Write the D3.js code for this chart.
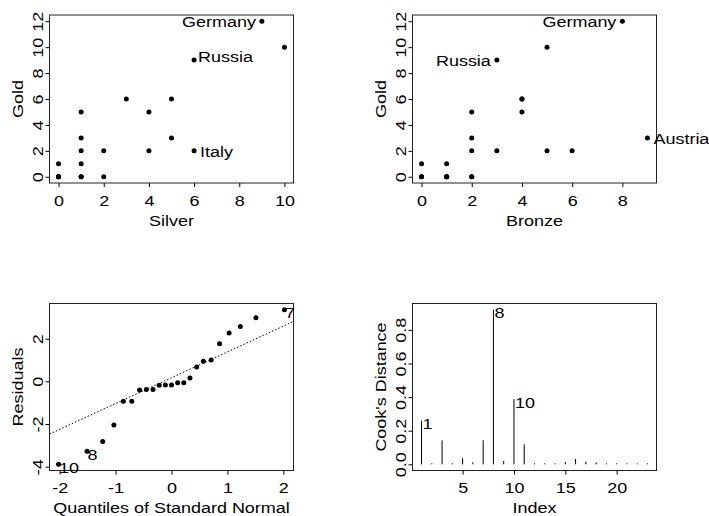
<!DOCTYPE html>
<html lang="en">
<head>
<meta charset="utf-8">
<title>Medals - regression diagnostics</title>
<script src="https://d3js.org/d3.v7.min.js"></script>
<style>
  body { margin: 0; background: #fff; }
  svg text { font-family: "Liberation Sans", Arial, sans-serif; font-size: 15.5px; fill: #000; }
</style>
</head>
<body>
<div id="chart"></div>
<script>
// medal table (China left out), one entry per country
const countries = ["Germany", "Norway", "Russia", "Canada", "USA", "Netherlands", "Japan", "Austria",
  "South Korea", "Italy", "Finland", "Switzerland", "France", "Czech Republic", "Bulgaria", "Sweden",
  "Denmark", "Ukraine", "Belarus", "Kazakhstan", "Australia", "Belgium", "Great Britain"];
const gold   = [12, 10, 9, 6, 6, 5, 5, 3, 3, 2, 2, 2, 2, 1, 1, 0, 0, 0, 0, 0, 0, 0, 0];
const silver = [9, 10, 6, 5, 3, 4, 1, 5, 1, 6, 4, 2, 1, 1, 0, 2, 1, 1, 0, 0, 0, 0, 0];
const bronze = [8, 5, 3, 4, 4, 2, 4, 9, 2, 2, 6, 3, 5, 1, 0, 1, 0, 0, 2, 2, 1, 1, 1];

// labelled countries in the two scatter plots (index into arrays, which side)
const silverLabels = [[0, "left"], [2, "right-up"], [9, "right"]];
const bronzeLabels = [[0, "left"], [2, "left"], [7, "right"]];

// normal QQ plot of residuals
const qqX = [-2.02, -1.51, -1.23, -1.03, -0.86, -0.71, -0.57, -0.45, -0.33, -0.22, -0.11, 0,
  0.11, 0.22, 0.33, 0.45, 0.57, 0.71, 0.86, 1.03, 1.23, 1.51, 2.02];
const qqY = [-3.89, -3.28, -2.82, -2.05, -0.93, -0.93, -0.41, -0.38, -0.38, -0.18, -0.17, -0.17,
  -0.07, -0.06, 0.16, 0.67, 0.94, 1.0, 1.76, 2.27, 2.57, 2.98, 3.36];
const qqLabels = [[0, "10"], [1, "8"], [22, "7"]];
const qqIntercept = 0.17, qqSlope = 1.21;

// Cook's distance by index
const cook = [0.26, 0.003, 0.143, 0.003, 0.037, 0.012, 0.143, 0.92, 0.02, 0.388, 0.119, 0.003,
  0.004, 0.004, 0.015, 0.032, 0.015, 0.012, 0.004, 0.004, 0.003, 0.003, 0.003];
const cookLabels = [0, 7, 9];

// tick values
const silverTicks = [0, 2, 4, 6, 8, 10];
const bronzeTicks = [0, 2, 4, 6, 8];
const goldTicks = [0, 2, 4, 6, 8, 10, 12];
const qqXTicks = [-2, -1, 0, 1, 2];
const qqYTicks = [-4, -2, 0, 2];
const indexTicks = [5, 10, 15, 20];
const cookTicks = [0, 0.2, 0.4, 0.6, 0.8];

const W = 709, H = 516;
const SX = 1.16; // text is drawn a bit wide in the original

let svg = d3.select("#chart").append("svg")
  .attr("width", W).attr("height", H);

function pad(ext) {
  let d = (ext[1] - ext[0]) * 0.04;
  return [ext[0] - d, ext[1] + d];
}

// plain hyphen minus, like the original
const intFmt = d => String(d);
const oneDec = d => d.toFixed(1);

function label(g, x, y, s, anchor, rot) {
  return g.append("text")
    .attr("text-anchor", anchor)
    .attr("transform", "translate(" + x + "," + y + ")" + (rot ? " rotate(-90)" : "") + " scale(" + SX + ",1)")
    .text(s);
}

// draws box, axes and titles, returns {g, x, y}
function panel(left, top, w, h, xDom, yDom, xt, yt, xTitle, yTitle, yFmt) {
  let g = svg.append("g");
  let x = d3.scaleLinear().domain(xDom).range([left, left + w]);
  let y = d3.scaleLinear().domain(yDom).range([top + h, top]);

  let ax = g.append("g").attr("transform", "translate(0," + (top + h) + ")")
    .call(d3.axisBottom(x).tickValues(xt).tickSize(4).tickSizeOuter(0).tickFormat(intFmt));
  ax.select(".domain").remove();
  ax.selectAll("line").attr("stroke", "#000");
  ax.selectAll("text")
    .attr("y", null).attr("dy", null)
    .attr("transform", "translate(0,22.5) scale(" + SX + ",1)");

  let ay = g.append("g").attr("transform", "translate(" + left + ",0)")
    .call(d3.axisLeft(y).tickValues(yt).tickSize(4).tickSizeOuter(0).tickFormat(yFmt || intFmt));
  ay.select(".domain").remove();
  ay.selectAll("line").attr("stroke", "#000");
  ay.selectAll("text")
    .attr("x", null).attr("dy", null)
    .attr("text-anchor", "middle")
    .attr("transform", "translate(-7,0) rotate(-90) scale(" + SX + ",1)");

  g.selectAll(".tick text").style("font-family", "'Liberation Sans', Arial, sans-serif").style("font-size", "15.5px");

  g.append("rect")
    .attr("x", left).attr("y", top).attr("width", w).attr("height", h)
    .attr("fill", "none").attr("stroke", "#222").attr("stroke-width", 1);

  label(g, left + w / 2, top + h + 42.5, xTitle, "middle", false);
  label(g, left - 26.5, top + h / 2, yTitle, "middle", true);
  return { g: g, x: x, y: y };
}

function scatter(p, xs, ys, labs) {
  p.g.selectAll("circle.pt").data(xs).enter().append("circle")
    .attr("class", "pt")
    .attr("cx", (d, i) => p.x(xs[i]))
    .attr("cy", (d, i) => p.y(ys[i]))
    .attr("r", 2.5).attr("fill", "#000");
  labs.forEach(function(l) {
    let i = l[0], side = l[1];
    let px = p.x(xs[i]), py = p.y(ys[i]);
    if (side == "left") label(p.g, px - 6, py + 6, countries[i], "end");
    else if (side == "right") label(p.g, px + 6, py + 6, countries[i], "start");
    else label(p.g, px + 4, py + 1.5, countries[i], "start");
  });
}

// top left: Gold vs Silver
let p1 = panel(49.5, 15, 244, 168, pad([0, 10]), pad([0, 12]), silverTicks, goldTicks, "Silver", "Gold");
scatter(p1, silver, gold, silverLabels);

// top right: Gold vs Bronze
let p2 = panel(412.5, 15, 244, 168, pad([0, 9]), pad([0, 12]), bronzeTicks, goldTicks, "Bronze", "Gold");
scatter(p2, bronze, gold, bronzeLabels);

// bottom left: normal QQ of residuals
let p3 = panel(49.5, 303.5, 244, 167, pad(d3.extent(qqX)), pad(d3.extent(qqY)), qqXTicks, qqYTicks,
  "Quantiles of Standard Normal", "Residuals");
let xd = p3.x.domain();
p3.g.append("line")
  .attr("x1", p3.x(xd[0])).attr("y1", p3.y(qqIntercept + qqSlope * xd[0]))
  .attr("x2", p3.x(xd[1])).attr("y2", p3.y(qqIntercept + qqSlope * xd[1]))
  .attr("stroke", "#000").attr("stroke-width", 1).attr("stroke-dasharray", "1.5,2");
p3.g.selectAll("circle.pt").data(qqX).enter().append("circle")
  .attr("class", "pt")
  .attr("cx", (d, i) => p3.x(qqX[i]))
  .attr("cy", (d, i) => p3.y(qqY[i]))
  .attr("r", 2.5).attr("fill", "#000");
qqLabels.forEach(function(l) {
  label(p3.g, p3.x(qqX[l[0]]) + 0.5, p3.y(qqY[l[0]]) + 8.5, l[1], "start");
});

// bottom right: Cook's distance
let idx = d3.range(1, cook.length + 1);
let p4 = panel(412.5, 303.5, 244, 167, pad([1, cook.length]), pad([0, d3.max(cook)]), indexTicks, cookTicks,
  "Index", "Cook's Distance", oneDec);
p4.g.selectAll("line.bar").data(cook).enter().append("line")
  .attr("class", "bar")
  .attr("x1", (d, i) => p4.x(idx[i])).attr("x2", (d, i) => p4.x(idx[i]))
  .attr("y1", p4.y(0)).attr("y2", d => Math.min(p4.y(d), p4.y(0) - 1))
  .attr("stroke", "#000").attr("stroke-width", 1);
cookLabels.forEach(function(i) {
  label(p4.g, p4.x(idx[i]) + 1, p4.y(cook[i]) + 8.5, String(idx[i]), "start");
});
</script>
</body>
</html>
